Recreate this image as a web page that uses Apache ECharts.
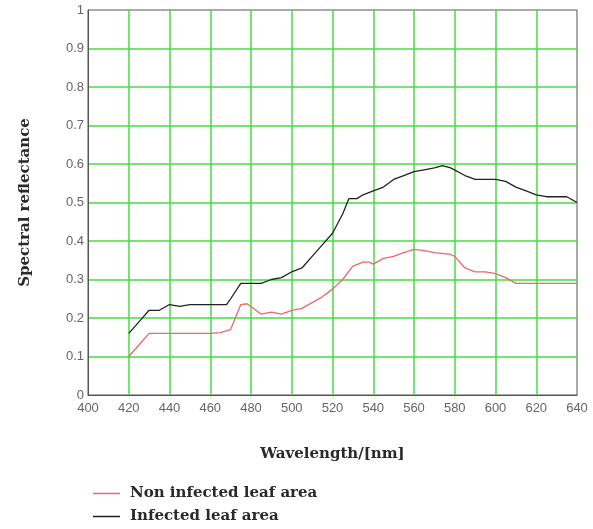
<!DOCTYPE html>
<html>
<head>
<meta charset="utf-8">
<script src="https://cdn.jsdelivr.net/npm/echarts@6/dist/echarts.min.js"></script>
<style>
html,body{margin:0;padding:0;background:#fff;}
#chart{width:593px;height:529px;}
</style>
</head>
<body>
<div id="chart"></div>
<script>
// wavelengths (nm) and reflectance
var wlInfected = [420,425,430,435,440,445,450,460,468,470,475,480,485,490,495,500,505,510,515,520,525,528,532,535,540,545,550,555,560,565,570,574,578,585,590,600,605,610,615,620,625,630,635,640];
var infected   = [0.16,0.19,0.22,0.22,0.235,0.23,0.235,0.235,0.235,0.25,0.29,0.29,0.29,0.30,0.305,0.32,0.33,0.36,0.39,0.42,0.47,0.51,0.51,0.52,0.53,0.54,0.56,0.57,0.58,0.585,0.59,0.596,0.59,0.57,0.56,0.56,0.555,0.54,0.53,0.52,0.515,0.515,0.515,0.50];

var wlHealthy = [420,425,430,440,450,460,465,470,475,478,480,485,490,495,500,505,510,515,520,525,530,535,538,540,545,550,555,560,565,570,578,580,585,590,595,600,605,610,620,630,640];
var healthy   = [0.10,0.13,0.16,0.16,0.16,0.16,0.162,0.17,0.235,0.237,0.23,0.21,0.215,0.21,0.22,0.225,0.24,0.255,0.275,0.30,0.335,0.345,0.345,0.34,0.355,0.36,0.37,0.378,0.375,0.37,0.365,0.36,0.33,0.32,0.32,0.315,0.305,0.29,0.29,0.29,0.29];

var seriesNames = ['Non infected leaf area', 'Infected leaf area'];

function pairs(xs, ys){
	var out = [];
	for (var i = 0; i < xs.length; i++) out.push([xs[i], ys[i]]);
	return out;
}

var gridGreen = '#44dd44';
var serif = 'DejaVu Serif';
var option = {
	animation: false,
	grid: {
		left: 88, right: 16, top: 10, bottom: 134,
		show: true, borderColor: '#555', borderWidth: 1
	},
	legend: {
		orient: 'vertical',
		left: 93, top: 486, padding: 0,
		itemWidth: 27, itemHeight: 1.5, itemGap: 8,
		icon: 'rect',
		textStyle: {fontFamily: serif, fontSize: 15, fontWeight: 'bold', color: '#2a2a2a', padding: [0, 0, 0, 5]},
		data: seriesNames
	},
	xAxis: {
		type: 'value', min: 400, max: 640, interval: 20,
		name: 'Wavelength/[nm]', nameLocation: 'middle', nameGap: 52,
		nameTextStyle: {fontFamily: serif, fontSize: 15, fontWeight: 'bold', color: '#2a2a2a'},
		axisLine: {show: true, lineStyle: {color: '#555', width: 1}},
		axisTick: {show: false},
		axisLabel: {margin: 7, fontFamily: 'Liberation Sans', fontSize: 13, color: '#666'},
		splitLine: {show: true, showMinLine: false, showMaxLine: false, lineStyle: {color: gridGreen, width: 1.5}}
	},
	yAxis: {
		type: 'value', min: 0, max: 1, interval: 0.1,
		name: 'Spectral reflectance', nameLocation: 'middle', nameGap: 55,
		nameTextStyle: {fontFamily: serif, fontSize: 15, fontWeight: 'bold', color: '#2a2a2a'},
		axisLine: {show: true, lineStyle: {color: '#555', width: 1}},
		axisTick: {show: false},
		axisLabel: {margin: 4, fontFamily: 'Liberation Sans', fontSize: 13, color: '#666'},
		splitLine: {show: true, showMinLine: false, showMaxLine: false, lineStyle: {color: gridGreen, width: 1.5}}
	},
	series: [
		{
			name: seriesNames[0], type: 'line', showSymbol: false,
			data: pairs(wlHealthy, healthy),
			lineStyle: {color: '#e86a6a', width: 1.3},
			itemStyle: {color: '#e86a6a'}
		},
		{
			name: seriesNames[1], type: 'line', showSymbol: false,
			data: pairs(wlInfected, infected),
			lineStyle: {color: '#222', width: 1.3},
			itemStyle: {color: '#222'}
		}
	]
};
var chart = echarts.init(document.getElementById('chart'));
chart.setOption(option);
</script>
</body>
</html>
